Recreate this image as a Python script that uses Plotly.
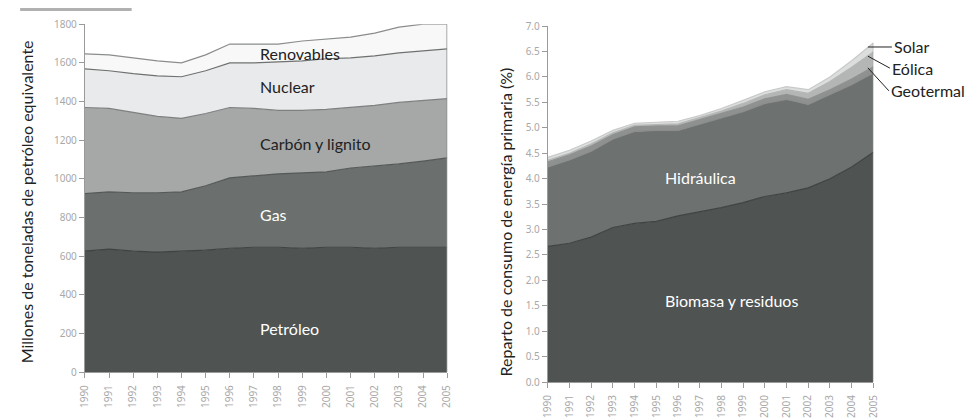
import plotly.graph_objects as go

years = list(range(1990, 2006))

# Left chart: world primary energy (Mtoe), stacked layers
petroleo = [626, 636, 626, 621, 626, 631, 641, 646, 646, 641, 646, 646, 641, 646, 646, 646]
gas = [297, 297, 302, 307, 307, 333, 364, 369, 380, 390, 390, 410, 426, 431, 446, 462]
carbon = [446, 431, 416, 395, 380, 374, 364, 349, 328, 323, 323, 313, 313, 318, 313, 307]
nuclear = [200, 195, 200, 210, 215, 221, 231, 236, 251, 256, 262, 257, 256, 256, 257, 257]
renovables = [77, 82, 82, 77, 72, 82, 97, 97, 92, 103, 102, 107, 118, 134, 138, 128]

# Right chart: share of primary energy consumption (%)
biomasa = [2.67, 2.73, 2.85, 3.04, 3.12, 3.16, 3.27, 3.35, 3.43, 3.53, 3.65, 3.72, 3.82, 4.00, 4.23, 4.52]
hidraulica = [1.56, 1.64, 1.69, 1.74, 1.81, 1.79, 1.68, 1.72, 1.76, 1.79, 1.83, 1.84, 1.64, 1.65, 1.62, 1.56]
geotermal = [0.10, 0.10, 0.10, 0.09, 0.09, 0.09, 0.09, 0.09, 0.09, 0.09, 0.09, 0.10, 0.10, 0.10, 0.11, 0.12]
eolica = [0.03, 0.03, 0.04, 0.03, 0.03, 0.03, 0.04, 0.04, 0.05, 0.07, 0.08, 0.09, 0.12, 0.16, 0.23, 0.29]
solar = [0.06, 0.06, 0.06, 0.05, 0.04, 0.04, 0.05, 0.04, 0.05, 0.06, 0.06, 0.06, 0.07, 0.09, 0.13, 0.18]

left_series = [
    ("Petróleo", petroleo, "#4f5351", "#3f4341"),
    ("Gas", gas, "#6b6f6d", "#555957"),
    ("Carbón y lignito", carbon, "#a5a8a7", "#7d807f"),
    ("Nuclear", nuclear, "#e9eaeb", "#6e7170"),
    ("Renovables", renovables, "#f8f8f8", "#8a8d8c"),
]
right_series = [
    ("Biomasa y residuos", biomasa, "#4f5351", "#3f4341"),
    ("Hidráulica", hidraulica, "#6d7170", "#8a8d8c"),
    ("Geotermal", geotermal, "#8e9190", "#8e9190"),
    ("Eólica", eolica, "#b4b6b5", "#b4b6b5"),
    ("Solar", solar, "#dcdddd", "#c8c9c9"),
]

fig = go.Figure()
for name, vals, fc, lc in left_series:
    fig.add_trace(go.Scatter(x=years, y=vals, name=name, stackgroup="left", mode="lines",
                             fillcolor=fc, line=dict(color=lc, width=1.2), xaxis="x", yaxis="y",
                             hoverinfo="x+y+name"))
for name, vals, fc, lc in right_series:
    fig.add_trace(go.Scatter(x=years, y=vals, name=name, stackgroup="right", mode="lines",
                             fillcolor=fc, line=dict(color=lc, width=1.2), xaxis="x2", yaxis="y2",
                             hoverinfo="x+y+name"))

W, H = 971, 418
# calibration from target screenshot pixels to paper fractions
def fx(px):
    return (px - 5.8) / 0.99 / W
def fy(py):
    return 1 - (py - 6.7) / 0.97 / H

tickfont = dict(family="Noto Sans", size=10, color="#a8a8a8")
axis_common = dict(showgrid=False, zeroline=False, showline=True, linecolor="#9a9a9a", linewidth=1,
                   ticks="outside", ticklen=5, tickcolor="#9a9a9a", tickfont=tickfont)

fig.update_layout(
    width=W, height=H, showlegend=False,
    margin=dict(l=0, r=0, t=0, b=0),
    paper_bgcolor="white", plot_bgcolor="white",
    xaxis=dict(domain=[fx(83), fx(447)], range=[years[0], years[-1]], tickvals=years,
               tickangle=-90, anchor="y", ticklabelstandoff=3, **axis_common),
    yaxis=dict(domain=[fy(374), fy(23)], range=[0, 1800], tickvals=list(range(0, 1801, 200)),
               anchor="x", **axis_common),
    xaxis2=dict(domain=[fx(548), fx(875)], range=[years[0], years[-1]], tickvals=years,
                tickangle=-90, anchor="y2", ticklabelstandoff=3, **axis_common),
    yaxis2=dict(domain=[fy(384), fy(25)], range=[0, 7], tickvals=[i * 0.5 for i in range(15)],
                tickformat=".1f", anchor="x2", **axis_common),
)

# right edges of the stacked areas
left_total = [sum(v) for v in zip(petroleo, gas, carbon, nuclear, renovables)]
right_total = [sum(v) for v in zip(biomasa, hidraulica, geotermal, eolica, solar)]
fig.add_shape(type="line", xref="x", yref="y", x0=years[-1], x1=years[-1], y0=0, y1=left_total[-1],
              line=dict(color="#8a8d8c", width=1.5))
fig.add_shape(type="line", xref="x2", yref="y2", x0=years[-1], x1=years[-1], y0=0, y1=right_total[-1],
              line=dict(color="#9a9a9a", width=1))

# small gray bar at the top-left corner
fig.add_shape(type="rect", xref="paper", yref="paper", x0=fx(18), x1=fx(130), y0=1 - 3 / H, y1=1,
              fillcolor="#b0b0b0", line=dict(width=0))

lab = dict(family="Lato", size=16)
def add_label(text, x, y, xref, yref, color):
    fig.add_annotation(text=text, x=x, y=y, xref=xref, yref=yref, showarrow=False,
                       xanchor="left", yanchor="middle", font=dict(color=color, **lab))

add_label("Renovables", 1997.17, 1646, "x", "y", "#222222")
add_label("Nuclear", 1997.17, 1477, "x", "y", "#222222")
add_label("Carbón y lignito", 1997.17, 1185, "x", "y", "#222222")
add_label("Gas", 1997.17, 815, "x", "y", "white")
add_label("Petróleo", 1997.17, 226, "x", "y", "white")
add_label("Hidráulica", 1995.3, 4.03, "x2", "y2", "white")
add_label("Biomasa y residuos", 1995.3, 1.60, "x2", "y2", "white")

# leader labels on the right
cum_geo = biomasa[-1] + hidraulica[-1] + geotermal[-1]
cum_eol = cum_geo + eolica[-1]
cum_sol = cum_eol + solar[-1]
for text, yv, ax, ay in [("Solar", cum_sol - 0.08, 24, 0),
                         ("Eólica", cum_eol - 0.08, 22, 12),
                         ("Geotermal", cum_geo - 0.02, 21, 23)]:
    fig.add_annotation(text=text, x=2004.75, y=yv, xref="x2", yref="y2", showarrow=True,
                       arrowhead=0, arrowwidth=1, arrowcolor="#222222", ax=ax, ay=ay,
                       xanchor="left", yanchor="middle", font=dict(color="#222222", **lab))

# axis titles
fig.add_annotation(text="Millones de toneladas de petróleo equivalente", x=fx(13), y=fy(202),
                   xref="paper", yref="paper", textangle=-90, showarrow=False,
                   font=dict(color="#222222", **lab))
fig.add_annotation(text="Reparto de consumo de energía primaria (%)", x=fx(505), y=fy(222),
                   xref="paper", yref="paper", textangle=-90, showarrow=False,
                   font=dict(color="#222222", **lab))

fig.write_html("out.html", config={"displayModeBar": False},
               post_script="document.body.style.margin='0px';"
                           "document.body.style.overflow='hidden';"
                           "document.documentElement.style.overflow='hidden';")
